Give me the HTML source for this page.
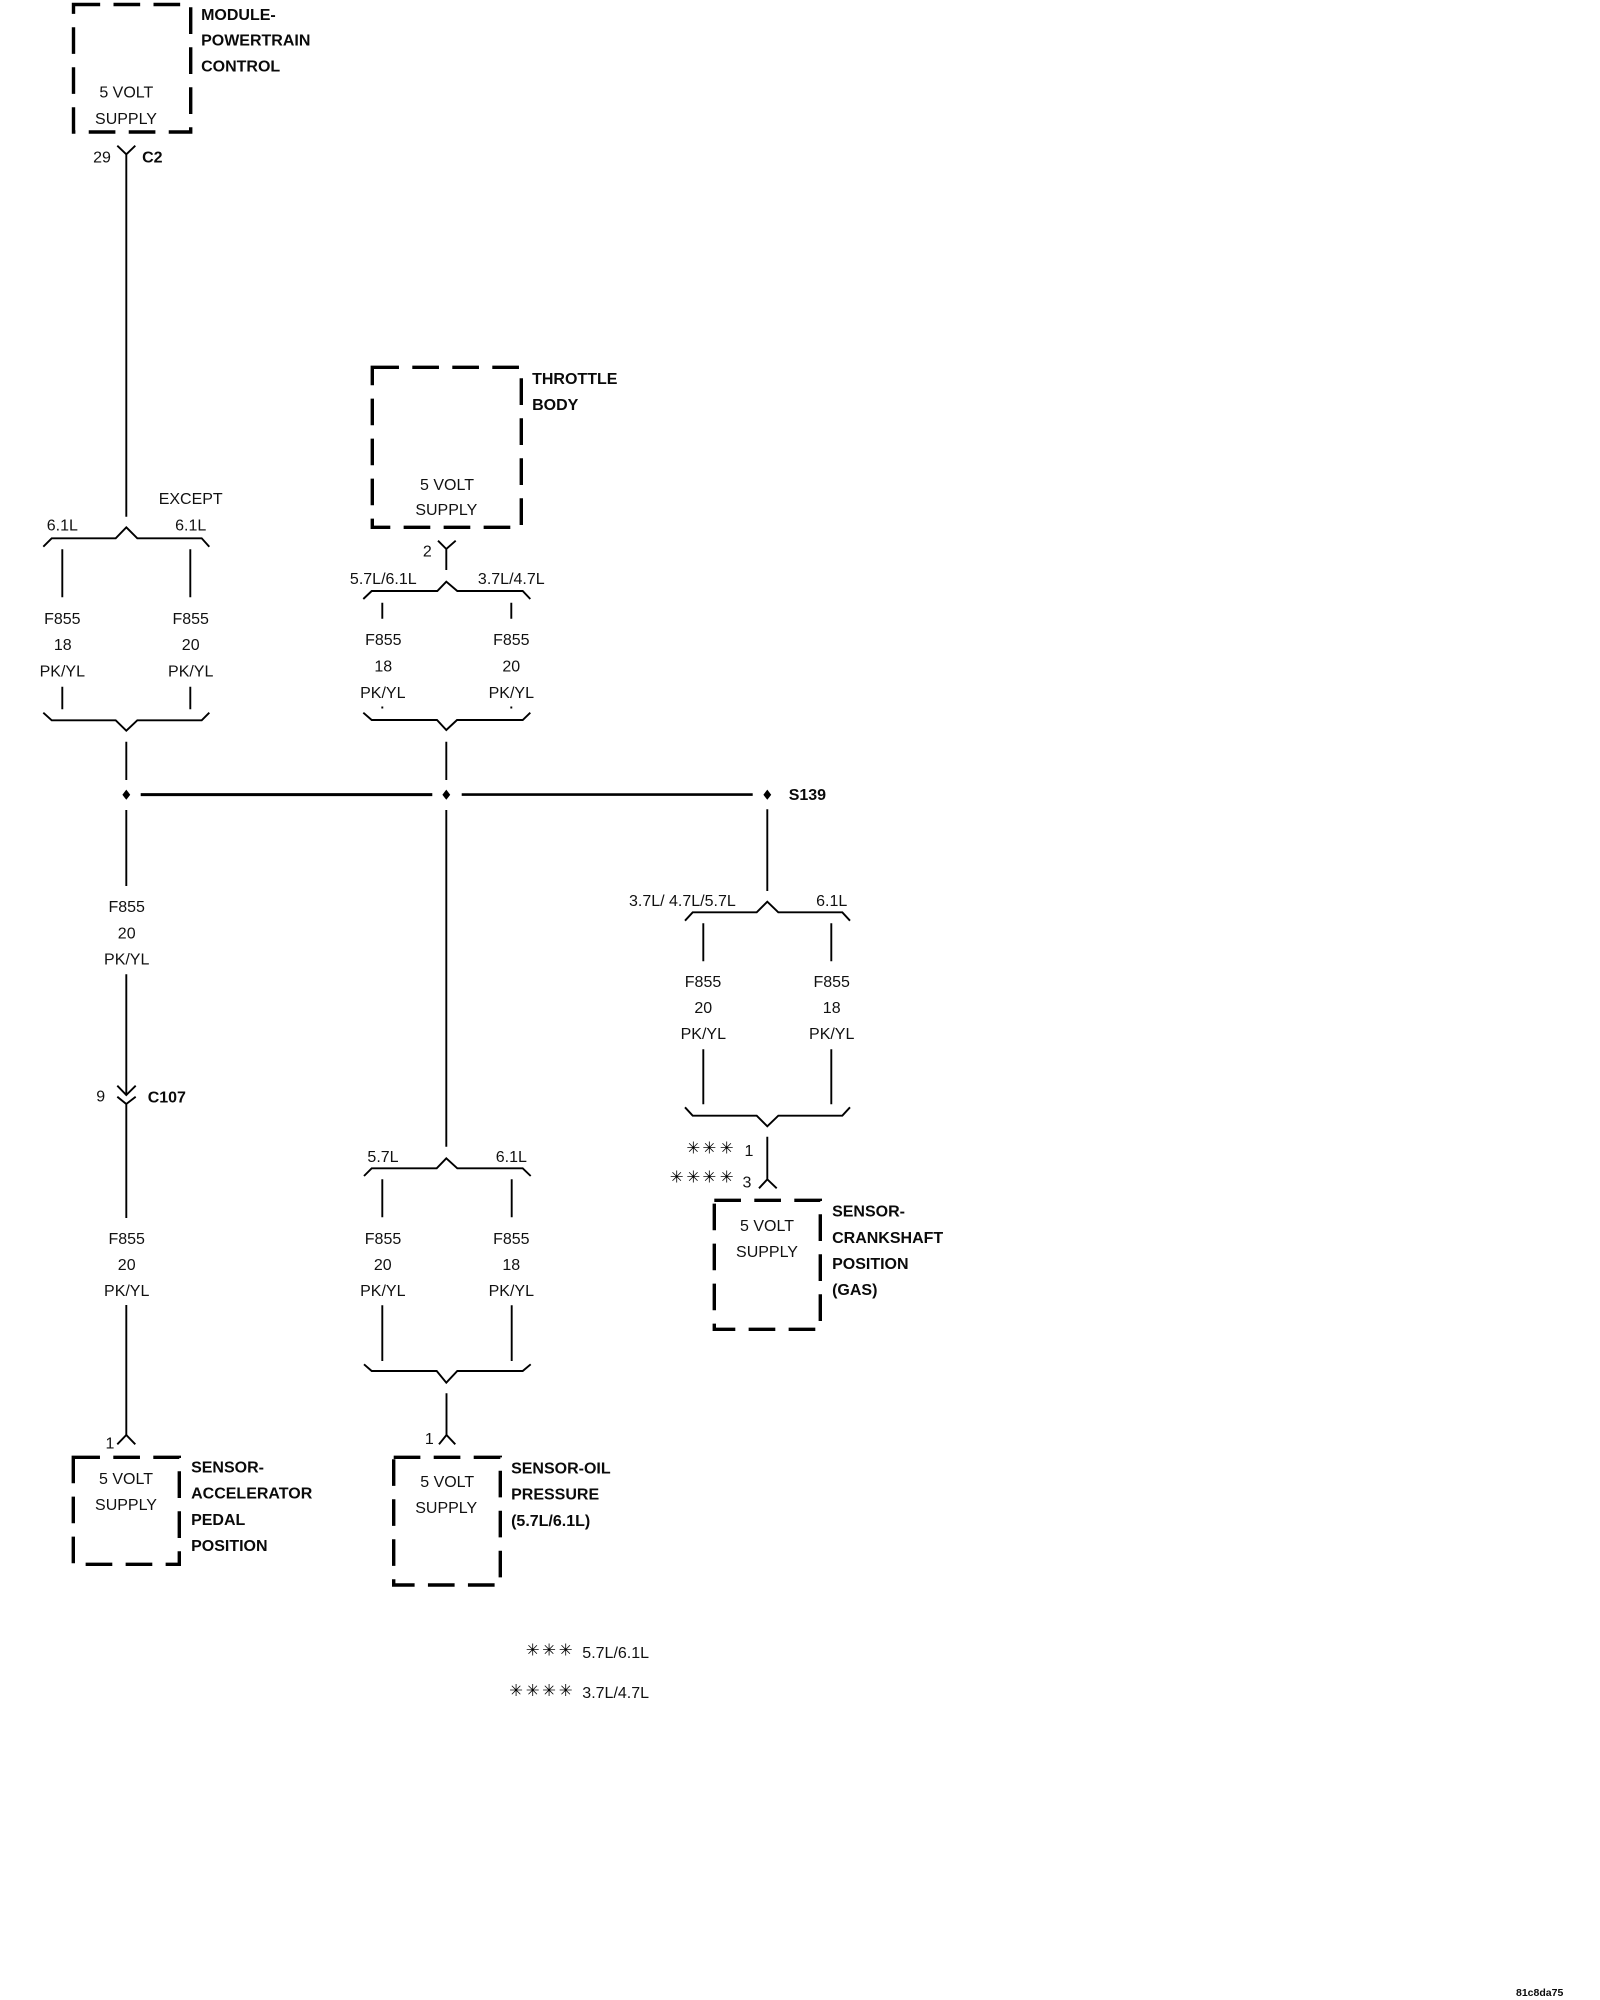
<!DOCTYPE html>
<html><head><meta charset="utf-8"><title>Wiring diagram</title>
<style>
html,body{margin:0;padding:0;background:#fff}
svg{display:block}
text{font-family:"Liberation Sans",sans-serif;font-size:16px;fill:#111}
.b{font-weight:bold;fill:#0a0a0a;transform:translateX(-.6px)}
.m{text-anchor:middle}
.a{font-family:"DejaVu Sans",sans-serif;font-size:16.5px;text-anchor:middle;fill:#000;transform:translateY(-.9px)}
.w{fill:none;stroke:#000;stroke-width:1.9}
.box{fill:none;stroke:#000;stroke-width:3.4;stroke-dasharray:26.67 13.33}
</style></head><body>
<svg xmlns="http://www.w3.org/2000/svg" width="1600" height="2000" viewBox="0 0 1600 2000">
<rect width="1600" height="2000" fill="#fff"/>
<!-- boxes -->
<path class="box" d="M73.5 4.5H190.7V132H73.5Z"/>
<path class="box" d="M372.3 367.3H521.3V527.3H372.3Z"/>
<path class="box" d="M714.3 1200.3H820.3V1329.3H714.3Z"/>
<path class="box" d="M73.3 1457.3H179.3V1564.3H73.3Z"/>
<path class="box" d="M393.7 1457.3H500.3V1585H393.7Z"/>
<!-- left column -->
<path class="w" d="M117.3 145.7L126.3 154.3L135.3 145.7M126.3 154.3V516.7"/>
<path class="w" d="M43.3 546.7L51.7 538.3H115.7L126.3 527.3L137.3 538.3H201.7L209.3 546.7"/>
<path class="w" d="M62.3 549.3V597.3M190.3 549.3V597.3M62.3 686.7V709.3M190.3 686.7V709.3"/>
<path class="w" d="M43.3 712.7L51.7 720.3H115.7L126.3 730.7L137.3 720.3H201.7L209.3 712.7"/>
<path class="w" d="M126.3 741.7V780M126.3 810V886M126.3 974.3V1095"/>
<path class="w" d="M117.3 1085.7L126.3 1095L135.7 1085.7M117.3 1096.7L126.3 1104L135.7 1096.7M126.3 1104V1218M126.3 1305V1435"/>
<path class="w" d="M117.3 1444.3L126.3 1435L135.3 1444.3"/>
<!-- centre column -->
<path class="w" d="M438 540.7L446.3 549L455.7 540.7M446.3 549V570"/>
<path class="w" d="M363.3 599L371.7 591H437.3L446.3 581.7L457.3 591H522.7L530.3 599"/>
<path class="w" d="M382.3 602.7V618.7M511.3 602.7V618.7"/>
<path class="w" d="M382.3 706.5V708.5M511.3 706.5V708.5"/>
<path class="w" d="M363.3 712.7L371.7 720H437L446.3 730L457 720H522.7L530.3 712.7"/>
<path class="w" d="M446.3 741.7V780M446.3 810V1146.7"/>
<path class="w" d="M364 1176L371.7 1168.3H436.7L446.3 1158.3L457.3 1168.3H522.7L530.7 1176"/>
<path class="w" d="M382.3 1179.3V1217.3M511.7 1179.3V1217.3M382.3 1305.3V1361M511.7 1305.3V1361"/>
<path class="w" d="M364 1364.3L371.7 1371H436.7L446.3 1382.7L457.3 1371H522.7L530.7 1364.3"/>
<path class="w" d="M446.5 1393.3V1435M439 1444.3L446.5 1435L455.3 1444.3"/>
<!-- right column -->
<path class="w" d="M767.3 809.3V891"/>
<path class="w" d="M685 920.7L692.7 912.3H756.7L767.3 901.7L778.3 912.3H842.3L850 920.7"/>
<path class="w" d="M703.3 923.3V961.3M831.3 923.3V961.3M703.3 1049.3V1104.3M831.3 1049.3V1104.3"/>
<path class="w" d="M685 1107.3L692.7 1115.7H756.7L767.3 1126.3L778.3 1115.7H842.3L850 1107.3"/>
<path class="w" d="M767.3 1136.7V1179.3M759 1188.3L767.3 1179.3L776.7 1188.3"/>
<!-- splice bus -->
<path d="M140.7 794.6H432.3" stroke="#000" stroke-width="3" fill="none"/>
<path d="M461.7 794.6H752.7" stroke="#000" stroke-width="2.6" fill="none"/>
<path d="M126.3 789.6Q128.5 792.5 130.2 794.7Q128.5 797 126.3 799.8Q124.1 797 122.4 794.7Q124.1 792.5 126.3 789.6Z" fill="#000"/>
<path d="M446.3 789.6Q448.5 792.5 450.2 794.7Q448.5 797 446.3 799.8Q444.1 797 442.4 794.7Q444.1 792.5 446.3 789.6Z" fill="#000"/>
<path d="M767.3 789.6Q769.5 792.5 771.2 794.7Q769.5 797 767.3 799.8Q765.1 797 763.4 794.7Q765.1 792.5 767.3 789.6Z" fill="#000"/>
<!-- module labels -->
<text class="b" x="201.7" y="20">MODULE-</text>
<text class="b" x="201.7" y="45.7">POWERTRAIN</text>
<text class="b" x="201.7" y="71.7">CONTROL</text>
<text class="m" x="126.3" y="97.7">5 VOLT</text>
<text class="m" x="126" y="124">SUPPLY</text>
<text class="m" x="102" y="162.3">29</text>
<text class="b" x="142.7" y="162.3">C2</text>
<text class="m" x="190.7" y="504">EXCEPT</text>
<text class="m" x="62.3" y="530.7">6.1L</text>
<text class="m" x="190.7" y="530.7">6.1L</text>
<text class="m" x="62.3" y="624">F855</text><text class="m" x="62.8" y="650">18</text><text class="m" x="62.3" y="676.7">PK/YL</text>
<text class="m" x="190.7" y="624">F855</text><text class="m" x="190.7" y="650">20</text><text class="m" x="190.7" y="676.7">PK/YL</text>
<text class="m" x="126.7" y="912">F855</text><text class="m" x="126.7" y="938.7">20</text><text class="m" x="126.7" y="964.7">PK/YL</text>
<text class="m" x="100.7" y="1101.7">9</text>
<text class="b" x="148.3" y="1102.7">C107</text>
<text class="m" x="126.7" y="1244">F855</text><text class="m" x="126.7" y="1270">20</text><text class="m" x="126.7" y="1296">PK/YL</text>
<text class="m" x="110" y="1448.7">1</text>
<text class="m" x="126" y="1484">5 VOLT</text>
<text class="m" x="126" y="1510">SUPPLY</text>
<text class="b" x="191.7" y="1472.7">SENSOR-</text>
<text class="b" x="191.7" y="1498.7">ACCELERATOR</text>
<text class="b" x="191.7" y="1525">PEDAL</text>
<text class="b" x="191.7" y="1551">POSITION</text>
<!-- throttle -->
<text class="b" x="532.7" y="384">THROTTLE</text>
<text class="b" x="532.7" y="410">BODY</text>
<text class="m" x="447" y="490">5 VOLT</text>
<text class="m" x="446.3" y="515">SUPPLY</text>
<text class="m" x="427.3" y="556.7">2</text>
<text class="m" x="383.3" y="584">5.7L/6.1L</text>
<text class="m" x="511.3" y="584">3.7L/4.7L</text>
<text class="m" x="383.3" y="645">F855</text><text class="m" x="383.3" y="671.3">18</text><text class="m" x="382.8" y="698">PK/YL</text>
<text class="m" x="511.3" y="645">F855</text><text class="m" x="511.3" y="671.3">20</text><text class="m" x="511.3" y="698">PK/YL</text>
<!-- centre lower -->
<text class="m" x="383" y="1162">5.7L</text>
<text class="m" x="511.3" y="1162">6.1L</text>
<text class="m" x="383" y="1244">F855</text><text class="m" x="382.8" y="1270">20</text><text class="m" x="382.8" y="1296">PK/YL</text>
<text class="m" x="511.3" y="1244">F855</text><text class="m" x="511.3" y="1270">18</text><text class="m" x="511.3" y="1296">PK/YL</text>
<text class="m" x="429.3" y="1444">1</text>
<text class="m" x="447.2" y="1487">5 VOLT</text>
<text class="m" x="446.2" y="1513">SUPPLY</text>
<text class="b" x="511.7" y="1473.3">SENSOR-OIL</text>
<text class="b" x="511.7" y="1499.3">PRESSURE</text>
<text class="b" x="511.7" y="1526">(5.7L/6.1L)</text>
<!-- right labels -->
<text class="b" x="789.3" y="800">S139</text>
<text x="629" y="906">3.7L/ 4.7L/5.7L</text>
<text class="m" x="831.7" y="906">6.1L</text>
<text class="m" x="703" y="987">F855</text><text class="m" x="703.3" y="1013">20</text><text class="m" x="703.3" y="1039">PK/YL</text>
<text class="m" x="831.7" y="987">F855</text><text class="m" x="831.7" y="1013">18</text><text class="m" x="831.7" y="1039">PK/YL</text>
<text class="a" x="693.3" y="1154.5">✳</text><text class="a" x="709.3" y="1154.5">✳</text><text class="a" x="726.7" y="1154.5">✳</text>
<text class="a" x="676.7" y="1183.5">✳</text><text class="a" x="693.3" y="1183.5">✳</text><text class="a" x="709.3" y="1183.5">✳</text><text class="a" x="726.7" y="1183.5">✳</text>
<text class="m" x="749" y="1156">1</text>
<text class="m" x="747" y="1187.7">3</text>
<text class="m" x="767" y="1231">5 VOLT</text>
<text class="m" x="767" y="1257">SUPPLY</text>
<text class="b" x="832.7" y="1216.7">SENSOR-</text>
<text class="b" x="832.7" y="1243">CRANKSHAFT</text>
<text class="b" x="832.7" y="1269">POSITION</text>
<text class="b" x="832.7" y="1295">(GAS)</text>
<!-- legend -->
<text class="a" x="532.7" y="1656.5">✳</text><text class="a" x="549" y="1656.5">✳</text><text class="a" x="565.7" y="1656.5">✳</text>
<text x="582.3" y="1658">5.7L/6.1L</text>
<text class="a" x="516" y="1697">✳</text><text class="a" x="532.7" y="1697">✳</text><text class="a" x="549" y="1697">✳</text><text class="a" x="565.7" y="1697">✳</text>
<text x="582.3" y="1698">3.7L/4.7L</text>
<text class="b" x="1516.6" y="1996" style="font-size:10.5px">81c8da75</text>
</svg>
</body></html>
